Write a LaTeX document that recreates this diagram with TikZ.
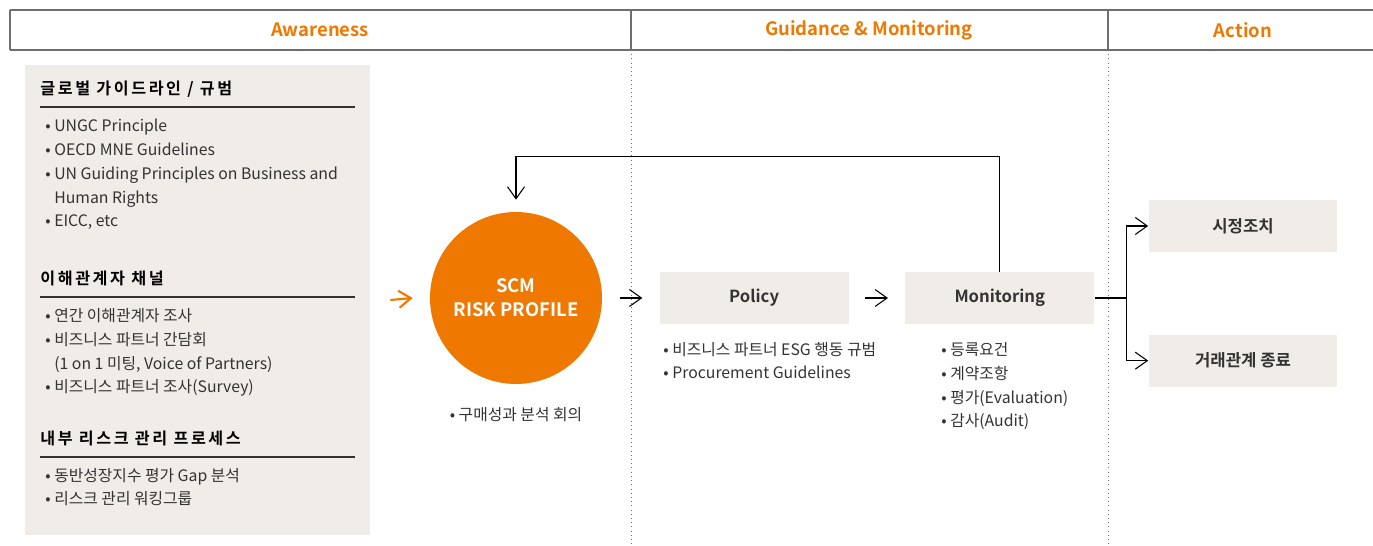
\documentclass[tikz,border=0pt]{standalone}
\usepackage{fontspec}
\setmainfont{Noto Sans CJK KR}[BoldFont={Noto Sans CJK KR Bold}]
\newfontfamily\titlefont{Noto Sans CJK KR Bold}[LetterSpace=16]
\usetikzlibrary{arrows.meta, positioning, calc}
\definecolor{scmorange}{HTML}{EE7800}
\definecolor{boxgray}{HTML}{F0ECE8}
\definecolor{linegray}{HTML}{6E6E6E}
\definecolor{txtgray}{HTML}{333333}

\begin{document}
\begin{tikzpicture}[
    x=0.02cm, y=-0.02cm,
    >={Straight Barb[length=2.4mm, width=3.4mm]},
    font=\fontsize{9}{13.6}\selectfont,
    % estilos
    headtext/.style={text=scmorange, font=\bfseries\fontsize{10.5}{12}\selectfont},
    panelbox/.style={rectangle, fill=boxgray, minimum width=6.9cm, minimum height=9.4cm, inner sep=0pt},
    graybox/.style={rectangle, fill=boxgray, minimum width=3.78cm, minimum height=1.04cm, text=txtgray, font=\bfseries\fontsize{9.5}{11}\selectfont},
    riskcircle/.style={circle, fill=scmorange, minimum size=3.44cm, text=white, align=center, font=\bfseries\fontsize{10.5}{13.6}\selectfont},
    secttitle/.style={anchor=base west, inner sep=0pt, text=black, font=\titlefont\fontsize{9.2}{12}\selectfont},
    listtext/.style={anchor=base west, inner sep=0pt, align=left, text=txtgray},
    flow/.style={->, black, line width=0.6pt}
]
\useasboundingbox (0,0) rectangle (1373,546);

% -------------------------
% CABECERA
% -------------------------
\draw[linegray, line width=0.6pt] (10,10) -- (1373,10) (10,50) -- (1373,50);
\draw[linegray, line width=0.6pt] (10,10) -- (10,50) (631,10) -- (631,50) (1108,10) -- (1108,50);
\draw[linegray, dotted] (631,50) -- (631,546) (1108,50) -- (1108,546);

\node[headtext] (h_aware) at (320,30) {Awareness};
\node[headtext] (h_guide) at (869,30) {Guidance \& Monitoring};
\node[headtext] (h_action) at (1243,30) {Action};

% -------------------------
% AWARENESS (Izquierda)
% -------------------------
\node[panelbox] (panel) at (197.5,300) {};

% (las listas se anclan en la linea base de su ultima linea)
\node[secttitle] (t_global) at (40,95) {글로벌 가이드라인 / 규범};
\draw[txtgray, line width=0.6pt] (40,107) -- (355,107);
\node[listtext] (l_global) at (45,227) {
    • UNGC Principle\\
    • OECD MNE Guidelines\\
    • UN Guiding Principles on Business and\\
    \phantom{• }Human Rights\\
    • EICC, etc
};

\node[secttitle] (t_stake) at (40,285) {이해관계자 채널};
\draw[txtgray, line width=0.6pt] (40,297) -- (355,297);
\node[listtext] (l_stake) at (45,393) {
    • 연간 이해관계자 조사\\
    • 비즈니스 파트너 간담회\\
    \phantom{• }(1 on 1 미팅, Voice of Partners)\\
    • 비즈니스 파트너 조사(Survey)
};

\node[secttitle] (t_risk) at (40,445) {내부 리스크 관리 프로세스};
\draw[txtgray, line width=0.6pt] (40,457) -- (355,457);
\node[listtext] (l_risk) at (45,505) {
    • 동반성장지수 평가 Gap 분석\\
    • 리스크 관리 워킹그룹
};

% -------------------------
% RISK PROFILE
% -------------------------
\node[riskcircle] (risk) at (516,298) {SCM\\RISK PROFILE};
\node[text=txtgray, below=0.34cm of risk] (risk_note) {• 구매성과 분석 회의};

\draw[->, scmorange, line width=1.2pt] (panel.east) ++(0.4cm,0) coordinate (in_start) -- ($(risk.west)+(-0.34cm,0)$) coordinate (in_end);

% -------------------------
% GUIDANCE & MONITORING
% -------------------------
\node[graybox, right=1.14cm of risk] (policy) {Policy};
\node[graybox, right=1.12cm of policy] (monitor) {Monitoring};

\node[listtext] (l_policy) at (663,379) {
    • 비즈니스 파트너 ESG 행동 규범\\
    • Procurement Guidelines
};
\node[listtext] (l_monitor) at (941,427) {
    • 등록요건\\
    • 계약조항\\
    • 평가(Evaluation)\\
    • 감사(Audit)
};

\draw[flow, shorten <=0.36cm, shorten >=0.34cm] (risk) -- (policy);
\draw[flow, shorten <=0.32cm, shorten >=0.34cm] (policy) -- (monitor);

% Retroalimentacion
\draw[flow, shorten >=0.24cm] (monitor.north) -- ++(0,-115) -| (risk.north);

% -------------------------
% ACTION (Derecha)
% -------------------------
\node[graybox] (fix) at (1243,226) {시정조치};
\node[graybox, below=1.64cm of fix] (stop) {거래관계 종료};

\coordinate (split) at ($(monitor.east)+(0.64cm,0)$);
\draw[black, line width=0.6pt] (monitor.east) -- (split);
\draw[flow] (split) |- (fix.west);
\draw[flow] (split) |- (stop.west);

\end{tikzpicture}
\end{document}
